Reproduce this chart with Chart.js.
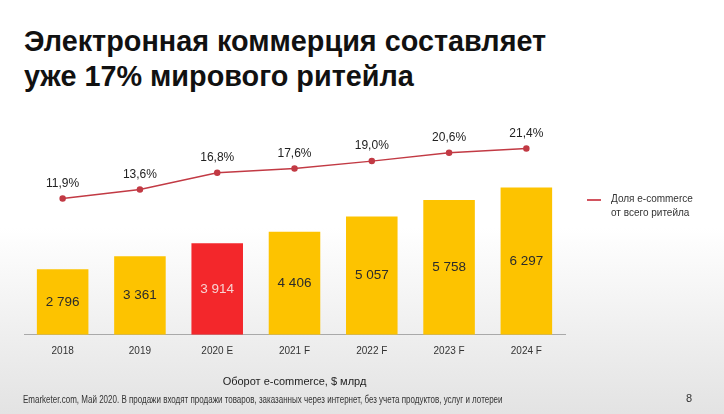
<!DOCTYPE html>
<html>
<head>
<meta charset="utf-8">
<script src="https://cdn.jsdelivr.net/npm/chart.js@4.4.1/dist/chart.umd.min.js"></script>
<style>
  html, body { margin: 0; padding: 0; }
  body {
    width: 724px; height: 414px; position: relative; overflow: hidden;
    font-family: "Liberation Sans", Arial, sans-serif;
    background: linear-gradient(to bottom, #ffffff 0%, #ffffff 55%, #eeeeee 82%, #e3e3e3 100%);
  }
  #title {
    position: absolute; left: 24px; top: 24px; margin: 0;
    font-size: 28.8px; font-weight: bold; line-height: 35px; color: #111;
  }
  #chartBox { position: absolute; left: 0; top: 0; width: 724px; height: 414px; }
  #legend {
    position: absolute; left: 587px; top: 192px; font-size: 10px; line-height: 14px; color: #333;
  }
  #legend .mark {
    position: absolute; left: 0; top: 7px; width: 14px; height: 2px; background: #d2545f;
  }
  #legend .txt { margin-left: 24px; }
  #note {
    position: absolute; left: 23px; top: 394px; font-size: 10px; color: #333;
    white-space: nowrap; transform: scaleX(0.8); transform-origin: left center;
  }
  #page { position: absolute; left: 686px; top: 392px; font-size: 11px; color: #333; }
</style>
</head>
<body>
<h1 id="title">Электронная коммерция составляет<br>уже 17% мирового ритейла</h1>
<div id="chartBox"><canvas id="salesChart"></canvas></div>
<div id="legend"><div class="mark"></div><div class="txt">Доля e-commerce<br>от всего ритейла</div></div>
<div id="note">Emarketer.com, Май 2020. В продажи входят продажи товаров, заказанных через интернет, без учета продуктов, услуг и лотереи</div>
<div id="page">8</div>

<script>
const years = ["2018", "2019", "2020 E", "2021 F", "2022 F", "2023 F", "2024 F"];
const turnover = [2796, 3361, 3914, 4406, 5057, 5758, 6297];
const sharePct = [11.9, 13.6, 16.8, 17.6, 19.0, 20.6, 21.4];
const highlightYear = "2020 E";

const yellow = "#fdc300";
const red = "#f3272b";
const lineRed = "#c23a44";

function fmtThousands(v) {
  return String(v).replace(/\B(?=(\d{3})+(?!\d))/g, " ");
}
function fmtPct(v) {
  return v.toFixed(1).replace(".", ",") + "%";
}

// draws the numbers inside bars and above line points
const valueLabels = {
  id: "valueLabels",
  afterDatasetsDraw(chart) {
    const ctx = chart.ctx;
    ctx.save();
    ctx.textAlign = "center";
    ctx.textBaseline = "middle";

    const bars = chart.getDatasetMeta(0).data;
    ctx.font = "13.5px 'Liberation Sans', Arial, sans-serif";
    bars.forEach((bar, i) => {
      const mid = (bar.y + bar.base) / 2;
      ctx.fillStyle = years[i] === highlightYear ? "#f8d2d2" : "#2b2b2b";
      ctx.fillText(fmtThousands(turnover[i]), bar.x, mid);
    });

    const pts = chart.getDatasetMeta(1).data;
    ctx.font = "12px 'Liberation Sans', Arial, sans-serif";
    ctx.fillStyle = "#222";
    pts.forEach((p, i) => {
      ctx.fillText(fmtPct(sharePct[i]), p.x, p.y - 15);
    });
    ctx.restore();
  }
};

new Chart("salesChart", {
  data: {
    labels: years,
    datasets: [
      {
        type: "bar",
        label: "Оборот e-commerce, $ млрд",
        data: turnover,
        yAxisID: "y",
        backgroundColor: (c) => (years[c.dataIndex] === highlightYear ? red : yellow),
        barPercentage: 0.667,
        categoryPercentage: 1,
        order: 2,
      },
      {
        type: "line",
        label: "Доля e-commerce от всего ритейла",
        data: sharePct,
        yAxisID: "y1",
        borderColor: lineRed,
        backgroundColor: lineRed,
        borderWidth: 1.5,
        pointRadius: 2.5,
        tension: 0,
        order: 1,
      },
    ],
  },
  options: {
    responsive: true,
    maintainAspectRatio: false,
    animation: false,
    layout: { padding: { left: 24, right: 159, top: 110, bottom: 21 } },
    plugins: {
      legend: { display: false },
      tooltip: { enabled: false },
    },
    scales: {
      x: {
        grid: { display: false, drawTicks: false },
        border: { display: true, color: "#a9a9a9", width: 1 },
        ticks: {
          padding: 10,
          color: "#333",
          font: { size: 10, family: "'Liberation Sans', Arial, sans-serif" },
        },
        title: {
          display: true,
          text: "Оборот e-commerce, $ млрд",
          color: "#222",
          font: { size: 11, family: "'Liberation Sans', Arial, sans-serif" },
          padding: { top: 9, bottom: 4 },
        },
      },
      y: { display: false, min: 0, max: 9605 },
      y1: { display: false, min: -14.09, max: 28.74 },
    },
  },
  plugins: [valueLabels],
});
</script>
</body>
</html>
